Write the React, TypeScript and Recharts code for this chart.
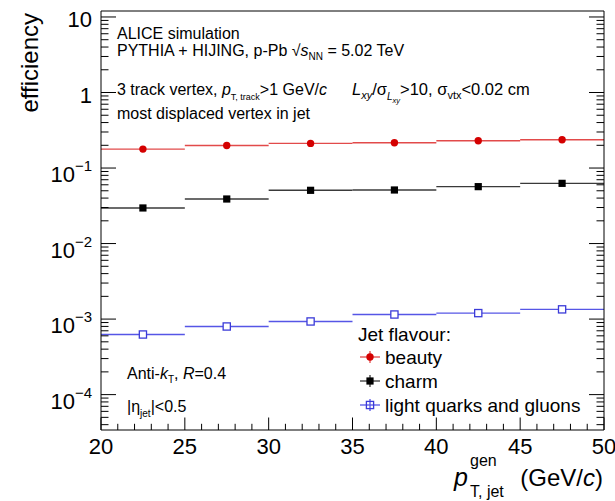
import React from 'react';
import { ComposedChart, Scatter, ErrorBar, XAxis, YAxis } from 'recharts';

// jet pT bins (GeV/c)
const binCenters = [22.5, 27.5, 32.5, 37.5, 42.5, 47.5];
const binHalfWidths = [2.5, 2.5, 2.5, 2.5, 2.5, 2.5];

// tagging efficiency per flavour
const beautyEff = [0.178, 0.199, 0.212, 0.216, 0.23, 0.237];
const charmEff = [0.0296, 0.0389, 0.0507, 0.0512, 0.0567, 0.0627];
const lightEff = [0.000625, 0.000798, 0.00093, 0.00115, 0.0012, 0.001345];

const xMajorTicks = [20, 25, 30, 35, 40, 45, 50];
const yDecades = [0.0001, 0.001, 0.01, 0.1, 1, 10];
const yDecadeLabels = [
  ['10', '\u22124'],
  ['10', '\u22123'],
  ['10', '\u22122'],
  ['10', '\u22121'],
  ['1', ''],
  ['10', ''],
];

const X_DOMAIN: [number, number] = [20, 50];
const Y_DOMAIN: [number, number] = [3.4e-5, 12];

const FONT = '"Liberation Sans", Arial, Helvetica, sans-serif';

// tick positions: every GeV on x, 1..9 x 10^n on y
const xTicks: number[] = [];
for (let v = X_DOMAIN[0]; v <= X_DOMAIN[1]; v++) xTicks.push(v);
const yTicks: number[] = [];
for (let e = -5; e <= 1; e++) {
  for (let k = 1; k <= 9; k++) {
    const v = k * Math.pow(10, e);
    if (v >= Y_DOMAIN[0] && v <= Y_DOMAIN[1]) yTicks.push(v);
  }
}

const toRows = (eff: number[]) =>
  binCenters.map((x, i) => ({ x, y: eff[i], xerr: binHalfWidths[i] }));

const beautyRows = toRows(beautyEff);
const charmRows = toRows(charmEff);
const lightRows = toRows(lightEff);

const decadeIndex = (v: number) => yDecades.findIndex((d) => Math.abs(d - v) / d < 1e-6);

const LeftTick = (props: any) => {
  const { x, y, payload } = props;
  const idx = decadeIndex(payload.value);
  const major = idx >= 0;
  const len = major ? 15 : 7.5;
  const lab = major ? yDecadeLabels[idx] : null;
  return (
    <g>
      <line x1={x} x2={x + len} y1={y} y2={y} stroke="#000" strokeWidth={1} />
      {lab && lab[1] === '' && (
        <text x={x - 9} y={y + 10} textAnchor="end" fontSize={22} fontFamily={FONT} fill="#000">
          {lab[0]}
        </text>
      )}
      {lab && lab[1] !== '' && (
        <text x={x - 9} y={y + 14} textAnchor="end" fontSize={22} fontFamily={FONT} fill="#000">
          {lab[0]}
          <tspan fontSize={15} dy={-11}>{lab[1]}</tspan>
        </text>
      )}
    </g>
  );
};

const RightTick = (props: any) => {
  const { x, y, payload } = props;
  const len = decadeIndex(payload.value) >= 0 ? 15 : 7.5;
  return <line x1={x} x2={x - len} y1={y} y2={y} stroke="#000" strokeWidth={1} />;
};

const BottomTick = (props: any) => {
  const { x, y, payload } = props;
  const major = xMajorTicks.includes(payload.value);
  const len = major ? 12.5 : 6.2;
  return (
    <g>
      <line x1={x} x2={x} y1={y} y2={y - len} stroke="#000" strokeWidth={1} />
      {major && (
        <text x={x} y={y + 24} textAnchor="middle" fontSize={22} fontFamily={FONT} fill="#000">
          {payload.value}
        </text>
      )}
    </g>
  );
};

const TopTick = (props: any) => {
  const { x, y, payload } = props;
  const len = xMajorTicks.includes(payload.value) ? 12.5 : 6.2;
  return <line x1={x} x2={x} y1={y} y2={y + len} stroke="#000" strokeWidth={1} />;
};

const RED = '#d40000';
const RED_LINE = '#e24a4a';
const BLACK = '#000000';
const BLACK_LINE = '#3a3a3a';
const BLUE = '#3b3bd8';
const BLUE_LINE = '#5656e6';

const Circle = ({ cx, cy }: any) => <circle cx={cx} cy={cy} r={3.7} fill={RED} />;
const FilledSquare = ({ cx, cy }: any) => <rect x={cx - 3.6} y={cy - 3.6} width={7.2} height={7.2} fill={BLACK} />;
const OpenSquare = ({ cx, cy }: any) => (
  <rect x={cx - 3.6} y={cy - 3.6} width={7.2} height={7.2} fill="#fff" stroke={BLUE} strokeWidth={1.3} />
);

const legendItems = [
  { label: 'beauty', color: RED_LINE, marker: 'circle', y: 357 },
  { label: 'charm', color: BLACK_LINE, marker: 'full', y: 381 },
  { label: 'light quarks and gluons', color: BLUE_LINE, marker: 'open', y: 405 },
];

const Annotations = () => (
  <svg
    width={615}
    height={501}
    style={{ position: 'absolute', left: 0, top: 0, pointerEvents: 'none' }}
    fontFamily={FONT}
    fill="#000"
  >
    {/* y title */}
    <text transform="translate(38,13) rotate(-90)" textAnchor="end" fontSize={24}>
      efficiency
    </text>

    {/* x title */}
    <text x={454} y={486} fontSize={25} fontStyle="italic">p</text>
    <text x={470} y={466} fontSize={16}>gen</text>
    <text x={470} y={497} fontSize={16}>T, jet</text>
    <text x={603} y={486} fontSize={24} textAnchor="end">
      (GeV/<tspan fontStyle="italic">c</tspan>)
    </text>

    {/* top-left text block */}
    <text x={117} y={39} fontSize={16}>ALICE simulation</text>
    <text x={117} y={56} fontSize={16}>
      PYTHIA + HIJING, p-Pb {'\u221A'}
      <tspan fontStyle="italic">s</tspan>
      <tspan fontSize={10} dy={4}>NN</tspan>
      <tspan dy={-4}> = 5.02 TeV</tspan>
    </text>
    <text x={117} y={95} fontSize={16}>
      3 track vertex, <tspan fontStyle="italic">p</tspan>
      <tspan fontSize={9} dy={5}>T, track</tspan>
      <tspan dy={-5}>&gt;1 GeV/</tspan>
      <tspan fontStyle="italic">c</tspan>
    </text>
    <text x={352} y={95} fontSize={16.5}>
      <tspan fontStyle="italic">L</tspan>
      <tspan fontSize={11} dy={4} fontStyle="italic">xy</tspan>
      <tspan dy={-4}>/{'\u03C3'}</tspan>
      <tspan fontSize={10} dy={5} fontStyle="italic">L</tspan>
      <tspan fontSize={7.5} dy={3} fontStyle="italic">xy</tspan>
      <tspan dy={-8}>&gt;10, {'\u03C3'}</tspan>
      <tspan fontSize={11} dy={4}>vtx</tspan>
      <tspan dy={-4}>&lt;0.02 cm</tspan>
    </text>
    <text x={117} y={119} fontSize={16}>most displaced vertex in jet</text>

    {/* jet definition */}
    <text x={127} y={379} fontSize={16}>
      Anti-<tspan fontStyle="italic">k</tspan>
      <tspan fontSize={10} dy={4}>T</tspan>
      <tspan dy={-4}>, </tspan>
      <tspan fontStyle="italic">R</tspan>=0.4
    </text>
    <text x={127} y={412} fontSize={16}>
      |{'\u03B7'}<tspan fontSize={10} dy={5}>jet</tspan>
      <tspan dy={-5}>|&lt;0.5</tspan>
    </text>

    {/* legend */}
    <text x={358} y={341} fontSize={19}>Jet flavour:</text>
    {legendItems.map((it) => (
      <g key={it.label}>
        <line x1={360} x2={380} y1={it.y} y2={it.y} stroke={it.color} strokeWidth={1.3} />
        <line x1={370} x2={370} y1={it.y - 6} y2={it.y + 6} stroke={it.color} strokeWidth={1.3} />
        {it.marker === 'circle' && <circle cx={370} cy={it.y} r={3.7} fill={RED} />}
        {it.marker === 'full' && <rect x={366.4} y={it.y - 3.6} width={7.2} height={7.2} fill={BLACK} />}
        {it.marker === 'open' && (
          <rect x={366.4} y={it.y - 3.6} width={7.2} height={7.2} fill="none" stroke={BLUE} strokeWidth={1.3} />
        )}
        <text x={385} y={it.y + 7} fontSize={19}>{it.label}</text>
      </g>
    ))}
  </svg>
);

export default function App() {
  return (
    <div style={{ position: 'absolute', left: 0, top: 0, width: 615, height: 501, background: '#fff' }}>
      <ComposedChart width={615} height={501} margin={{ top: 10, right: 10, bottom: 0, left: 0 }}>
        <XAxis
          xAxisId="bottom"
          type="number"
          dataKey="x"
          domain={X_DOMAIN}
          allowDataOverflow
          ticks={xTicks}
          interval={0}
          height={71}
          tickSize={0}
          tickMargin={0}
          tick={<BottomTick />}
          axisLine={{ stroke: '#000', strokeWidth: 1 }}
          tickLine={false}
        />
        <XAxis
          xAxisId="top"
          orientation="top"
          type="number"
          domain={X_DOMAIN}
          allowDataOverflow
          ticks={xTicks}
          interval={0}
          height={1}
          tickSize={0}
          tickMargin={0}
          tick={<TopTick />}
          axisLine={{ stroke: '#000', strokeWidth: 1 }}
          tickLine={false}
        />
        <YAxis
          yAxisId="left"
          type="number"
          dataKey="y"
          scale="log"
          domain={Y_DOMAIN}
          allowDataOverflow
          ticks={yTicks}
          interval={0}
          width={101}
          tickSize={0}
          tickMargin={0}
          tick={<LeftTick />}
          axisLine={{ stroke: '#000', strokeWidth: 1 }}
          tickLine={false}
        />
        <YAxis
          yAxisId="right"
          orientation="right"
          type="number"
          scale="log"
          domain={Y_DOMAIN}
          allowDataOverflow
          ticks={yTicks}
          interval={0}
          width={1}
          tickSize={0}
          tickMargin={0}
          tick={<RightTick />}
          axisLine={{ stroke: '#000', strokeWidth: 1 }}
          tickLine={false}
        />
        <Scatter
          name="light quarks and gluons"
          data={lightRows}
          xAxisId="bottom"
          yAxisId="left"
          dataKey="y"
          shape={OpenSquare}
          isAnimationActive={false}
        >
          <ErrorBar dataKey="xerr" direction="x" width={0} stroke={BLUE_LINE} strokeWidth={1.4} isAnimationActive={false} />
        </Scatter>
        <Scatter
          name="charm"
          data={charmRows}
          xAxisId="bottom"
          yAxisId="left"
          dataKey="y"
          shape={FilledSquare}
          isAnimationActive={false}
        >
          <ErrorBar dataKey="xerr" direction="x" width={0} stroke={BLACK_LINE} strokeWidth={1.4} isAnimationActive={false} />
        </Scatter>
        <Scatter
          name="beauty"
          data={beautyRows}
          xAxisId="bottom"
          yAxisId="left"
          dataKey="y"
          shape={Circle}
          isAnimationActive={false}
        >
          <ErrorBar dataKey="xerr" direction="x" width={0} stroke={RED_LINE} strokeWidth={1.4} isAnimationActive={false} />
        </Scatter>
      </ComposedChart>
      <Annotations />
    </div>
  );
}
